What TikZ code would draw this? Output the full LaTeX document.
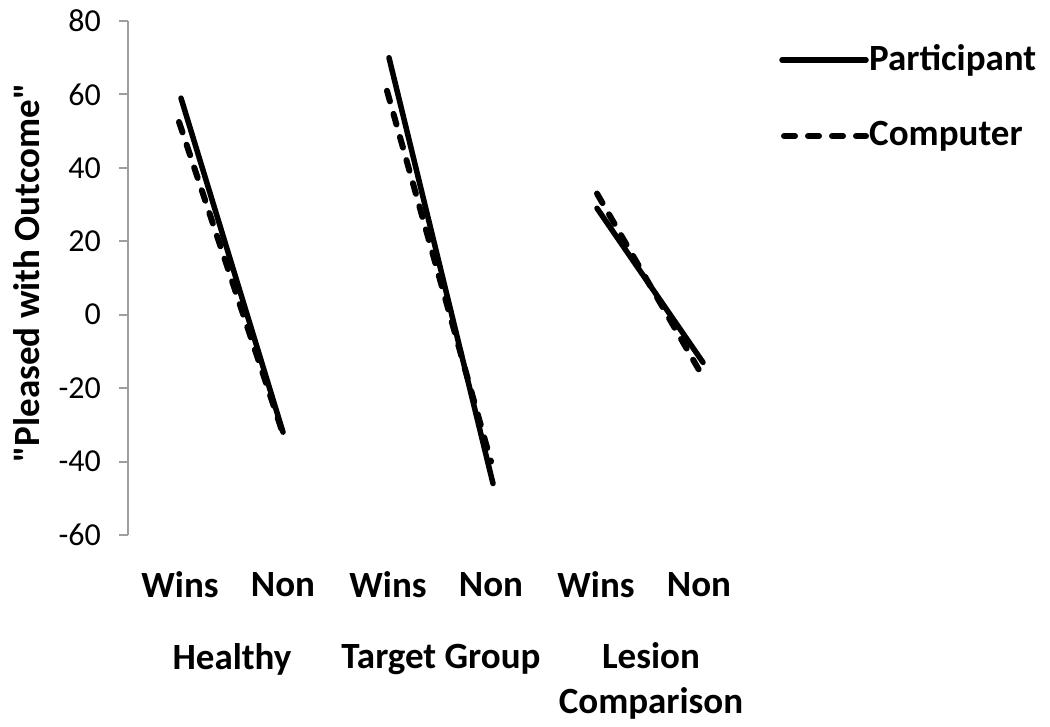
\documentclass[tikz,border=0pt]{standalone}
\usepackage{fontspec}
\setmainfont{Carlito}[Ligatures=TeXOff]
\begin{document}
\begin{tikzpicture}[x=1pt,y=-1pt,
  axisline/.style={draw=black!38, line width=2pt},
  tick/.style={font=\fontsize{32}{36}\selectfont, anchor=east, inner sep=0pt},
  cat/.style={font=\bfseries\fontsize{37}{45}\selectfont, inner sep=0pt},
  solidser/.style={line width=5.5pt, line cap=round},
  dashser/.style={line width=6pt, line cap=round, dash pattern=on 11pt off 13pt},
  leg/.style={font=\bfseries\fontsize{37}{45}\selectfont, anchor=west, inner sep=0pt}]
\useasboundingbox (0,0) rectangle (1050,726);
\pgfmathsetmacro{\yz}{314.7}
\pgfmathsetmacro{\ys}{3.671}
% axis
\coordinate (atop) at (128,{\yz-80*\ys});
\coordinate (abot) at (128,{\yz+60*\ys});
\draw[axisline] (atop) -- (abot);
\foreach \v in {80,60,40,20,0,-20,-40,-60}{
  \draw[axisline] (119,{\yz-\v*\ys}) -- (128,{\yz-\v*\ys});
  \node[tick] (t\v) at (101,{\yz-\v*\ys}) {\v};
}
% y title
\node[rotate=90, font=\bfseries\fontsize{37}{45}\selectfont, inner sep=0pt] (ytitle) at (27,273) {"Pleased with Outcome"};
% data coordinates
\coordinate (hpw) at (181,{\yz-59*\ys});
\coordinate (hpn) at (283,{\yz+32*\ys});
\coordinate (hcw) at (179,{\yz-52.5*\ys});
\coordinate (hcn) at (283,{\yz+32.5*\ys});
\coordinate (tpw) at (389,{\yz-70*\ys});
\coordinate (tpn) at (493,{\yz+46*\ys});
\coordinate (tcw) at (387,{\yz-61*\ys});
\coordinate (tcn) at (491,{\yz+40*\ys});
\coordinate (lpw) at (597,{\yz-29*\ys});
\coordinate (lpn) at (703,{\yz+13*\ys});
\coordinate (lcw) at (597,{\yz-33*\ys});
\coordinate (lcn) at (701,{\yz+16*\ys});
% series
\draw[dashser] (hcw) -- (hcn);
\draw[dashser] (tcw) -- (tcn);
\draw[dashser] (lcw) -- (lcn);
\draw[solidser] (hpw) -- (hpn);
\draw[solidser] (tpw) -- (tpn);
\draw[solidser] (lpw) -- (lpn);
% category labels
\node[cat] (c1) at (180,585) {Wins};
\node[cat] (c2) at (283,585) {Non};
\node[cat] (c3) at (388,585) {Wins};
\node[cat] (c4) at (491,585) {Non};
\node[cat] (c5) at (596,585) {Wins};
\node[cat] (c6) at (699,585) {Non};
\node[cat] (g1) at (232,659) {Healthy};
\node[cat] (g2) at (441,659) {Target Group};
\node[cat, align=center] (g3) at (651,681) {Lesion\\Comparison};
% legend
\coordinate (l1a) at (782,60);
\coordinate (l1b) at (866,60);
\coordinate (l2a) at (784,136);
\coordinate (l2b) at (866,136);
\draw[solidser] (l1a) -- (l1b);
\draw[dashser] (l2a) -- (l2b);
\node[leg] (lp) at (869,60) {Participant};
\node[leg] (lc) at (869,136) {Computer};
\end{tikzpicture}
\end{document}
